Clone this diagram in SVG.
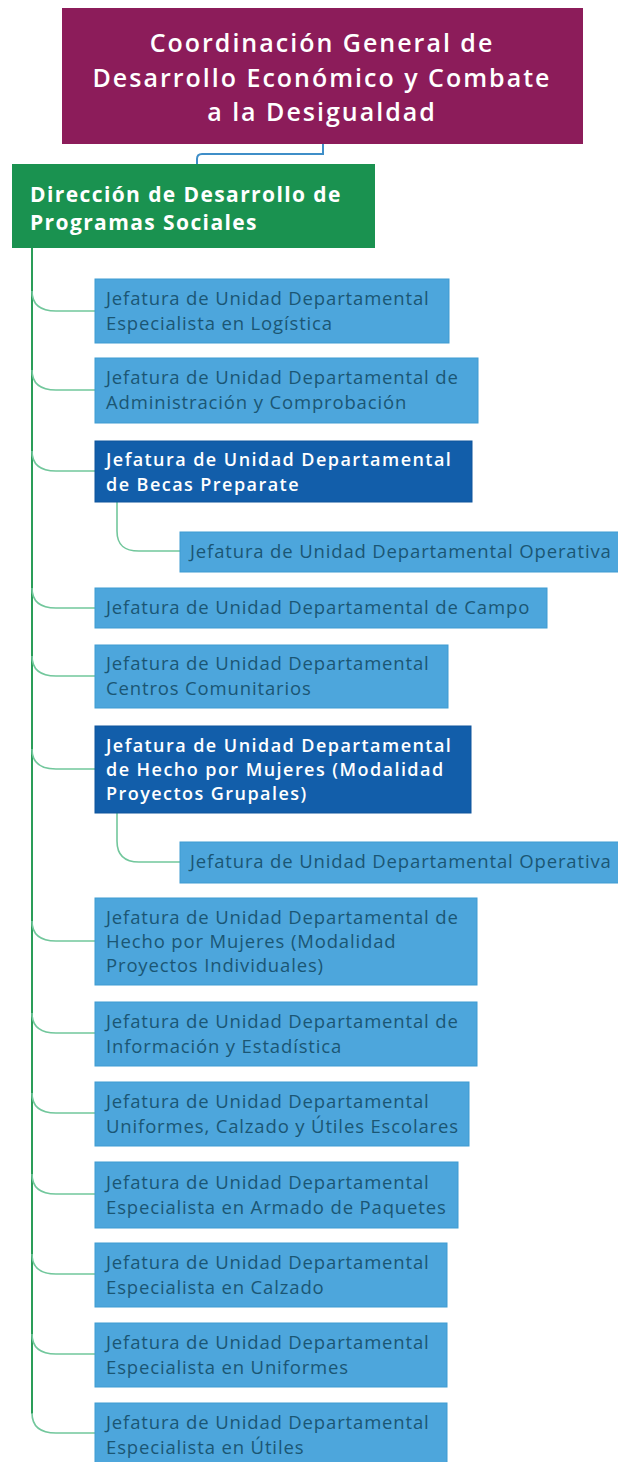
<svg xmlns="http://www.w3.org/2000/svg" width="618" height="1462" viewBox="0 0 618 1462">
<style>
.bg{fill:#ffffff}
.top{fill:#8c1c5a}
.dir{fill:#1a9250}
.lb{fill:#4da6dc;stroke:#3f9bd2;stroke-width:1}
.db{fill:#125eaa;stroke:#0f559c;stroke-width:1}
.tt{font-family:"Open Sans","Liberation Sans",sans-serif;font-weight:600;font-size:25px;fill:#ffffff;text-anchor:middle;letter-spacing:2px}
.td{font-family:"Open Sans","Liberation Sans",sans-serif;font-weight:700;font-size:21px;fill:#ffffff;letter-spacing:1.4px}
.tl{font-family:"Open Sans","Liberation Sans",sans-serif;font-size:18.5px;fill:#1b5674;letter-spacing:0.85px}
.tk{font-family:"Open Sans","Liberation Sans",sans-serif;font-weight:600;font-size:18px;fill:#ffffff;letter-spacing:1.45px}
.main{fill:none;stroke:#2a9d58;stroke-width:2}
.br{fill:none;stroke:#72c79c;stroke-width:1.6}
.blue{fill:none;stroke:#3f8ec8;stroke-width:2}
</style>
<rect class="bg" x="0" y="0" width="618" height="1462"/>
<g id="connectors">
<path class="blue" d="M323,143 V154 H202 Q197,154 197,159 V165"/>
<path class="main" d="M32,248 V1414"/>
<path class="br" d="M32,291 C32,305 40,311 56,311 H95"/>
<path class="br" d="M32,370 C32,384 40,390 56,390 H95"/>
<path class="br" d="M32,451 C32,465 40,471 56,471 H95"/>
<path class="br" d="M117,502 V531 C117,545 124,551 139,551 H180"/>
<path class="br" d="M32,588 C32,602 40,608 56,608 H95"/>
<path class="br" d="M32,656 C32,670 40,676 56,676 H95"/>
<path class="br" d="M32,749 C32,763 40,769 56,769 H95"/>
<path class="br" d="M117,813 V841 C117,855 124,862 139,862 H180"/>
<path class="br" d="M32,921 C32,935 40,941 56,941 H95"/>
<path class="br" d="M32,1013 C32,1027 40,1033 56,1033 H95"/>
<path class="br" d="M32,1093 C32,1107 40,1113 56,1113 H95"/>
<path class="br" d="M32,1174 C32,1188 40,1194 56,1194 H95"/>
<path class="br" d="M32,1254 C32,1268 40,1274 56,1274 H95"/>
<path class="br" d="M32,1334 C32,1348 40,1354 56,1354 H95"/>
<path class="br" d="M32,1413 C32,1427 40,1433 56,1433 H95"/>
</g>
<g id="n-coordinacion">
<rect class="top" x="62" y="8" width="521" height="136"/>
<text class="tt" x="322" y="52">Coordinación General de</text>
<text class="tt" x="322" y="87">Desarrollo Económico y Combate</text>
<text class="tt" x="322" y="121">a la Desigualdad</text>
</g>
<g id="n-direccion">
<rect class="dir" x="12" y="164" width="363" height="84"/>
<text class="td" x="30" y="202">Dirección de Desarrollo de</text>
<text class="td" x="30" y="230">Programas Sociales</text>
</g>
<g id="n-logistica">
<rect class="lb" x="95" y="279" width="354" height="64"/>
<text class="tl" x="106" y="305">Jefatura de Unidad Departamental</text>
<text class="tl" x="106" y="330">Especialista en Logística</text>
</g>
<g id="n-administracion">
<rect class="lb" x="95" y="358" width="383" height="65"/>
<text class="tl" x="106" y="384">Jefatura de Unidad Departamental de</text>
<text class="tl" x="106" y="409">Administración y Comprobación</text>
</g>
<g id="n-becas">
<rect class="db" x="95" y="441" width="377" height="61"/>
<text class="tk" x="106" y="466">Jefatura de Unidad Departamental</text>
<text class="tk" x="106" y="491">de Becas Preparate</text>
</g>
<g id="n-operativa-1">
<rect class="lb" x="180" y="532" width="445" height="40"/>
<text class="tl" x="190" y="558">Jefatura de Unidad Departamental Operativa</text>
</g>
<g id="n-campo">
<rect class="lb" x="95" y="588" width="452" height="40"/>
<text class="tl" x="106" y="614">Jefatura de Unidad Departamental de Campo</text>
</g>
<g id="n-centros">
<rect class="lb" x="95" y="645" width="353" height="63"/>
<text class="tl" x="106" y="670">Jefatura de Unidad Departamental</text>
<text class="tl" x="106" y="695">Centros Comunitarios</text>
</g>
<g id="n-hecho-grupales">
<rect class="db" x="95" y="726" width="376" height="87"/>
<text class="tk" x="106" y="752">Jefatura de Unidad Departamental</text>
<text class="tk" x="106" y="776">de Hecho por Mujeres (Modalidad</text>
<text class="tk" x="106" y="800">Proyectos Grupales)</text>
</g>
<g id="n-operativa-2">
<rect class="lb" x="180" y="842" width="445" height="41"/>
<text class="tl" x="190" y="868">Jefatura de Unidad Departamental Operativa</text>
</g>
<g id="n-hecho-individuales">
<rect class="lb" x="95" y="898" width="382" height="87"/>
<text class="tl" x="106" y="924">Jefatura de Unidad Departamental de</text>
<text class="tl" x="106" y="948">Hecho por Mujeres (Modalidad</text>
<text class="tl" x="106" y="972">Proyectos Individuales)</text>
</g>
<g id="n-informacion">
<rect class="lb" x="95" y="1002" width="382" height="64"/>
<text class="tl" x="106" y="1028">Jefatura de Unidad Departamental de</text>
<text class="tl" x="106" y="1053">Información y Estadística</text>
</g>
<g id="n-uniformes-calzado">
<rect class="lb" x="95" y="1082" width="374" height="64"/>
<text class="tl" x="106" y="1108">Jefatura de Unidad Departamental</text>
<text class="tl" x="106" y="1133">Uniformes, Calzado y Útiles Escolares</text>
</g>
<g id="n-paquetes">
<rect class="lb" x="95" y="1162" width="363" height="66"/>
<text class="tl" x="106" y="1189">Jefatura de Unidad Departamental</text>
<text class="tl" x="106" y="1214">Especialista en Armado de Paquetes</text>
</g>
<g id="n-calzado">
<rect class="lb" x="95" y="1243" width="352" height="64"/>
<text class="tl" x="106" y="1269">Jefatura de Unidad Departamental</text>
<text class="tl" x="106" y="1294">Especialista en Calzado</text>
</g>
<g id="n-uniformes">
<rect class="lb" x="95" y="1323" width="352" height="64"/>
<text class="tl" x="106" y="1349">Jefatura de Unidad Departamental</text>
<text class="tl" x="106" y="1374">Especialista en Uniformes</text>
</g>
<g id="n-utiles">
<rect class="lb" x="95" y="1403" width="352" height="64"/>
<text class="tl" x="106" y="1429">Jefatura de Unidad Departamental</text>
<text class="tl" x="106" y="1454">Especialista en Útiles</text>
</g>
</svg>
